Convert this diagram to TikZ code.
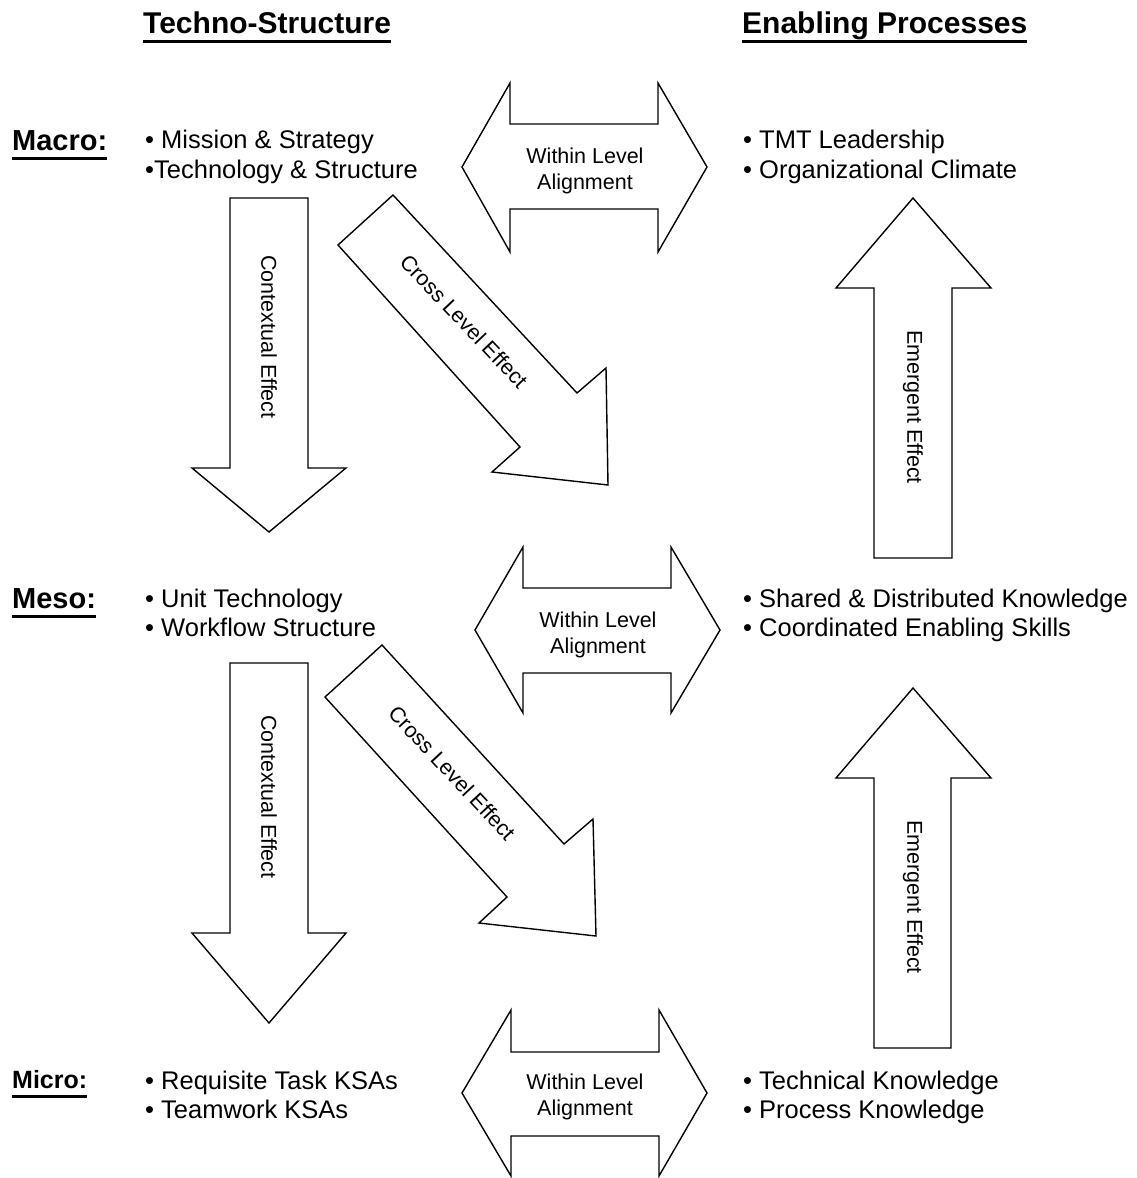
\documentclass[tikz,border=0pt]{standalone}
\usepackage{fontspec}
\setmainfont{Liberation Sans}
\usepackage{tikz}
\newcommand{\thickul}[1]{\setbox0=\hbox{#1}\rlap{\copy0}\rule[-9.5pt]{\wd0}{2.5pt}}
\tikzstyle{blockarrow} = [draw, fill=white, line width=1.4pt, line join=miter]
\tikzstyle{arrowtext} = [inner sep=0pt, align=center, font=\fontsize{21.5}{26}\selectfont]
\tikzstyle{itemline} = [inner sep=0pt, anchor=base west, font=\fontsize{25.5}{30}\selectfont]
\tikzstyle{heading} = [inner sep=0pt, anchor=base west, font=\fontsize{30}{36}\selectfont\bfseries]
\tikzstyle{levelname} = [inner sep=0pt, anchor=base west, font=\fontsize{29}{34}\selectfont\bfseries]

\begin{document}
\begin{tikzpicture}[x=1pt,y=-1pt]
    \path[fill=white] (0,0) rectangle (1136,1178);
    \useasboundingbox (0,0) rectangle (1136,1178);

    % column headings
    \node [heading] (techno) at (143,33) {\thickul{Techno-Structure}};
    \node [heading] (enabling) at (742,33) {\thickul{Enabling Processes}};

    \node [levelname] (macro) at (12,150) {\thickul{Macro:}};
    \node [levelname] (meso) at (12,608) {\thickul{Meso:}};
    \node [levelname, font=\fontsize{25}{30}\selectfont\bfseries] (micro) at (12,1088) {\thickul{Micro:}};

    \node [itemline] (mission) at (145,148) {• Mission \& Strategy};
    \node [itemline] (techstruct) at (145,178) {•Technology \& Structure};
    \node [itemline] (unittech) at (145,607) {• Unit Technology};
    \node [itemline] (workflow) at (145,636) {• Workflow Structure};
    \node [itemline] (taskksa) at (145,1089) {• Requisite Task KSAs};
    \node [itemline] (teamksa) at (145,1118) {• Teamwork KSAs};

    \node [itemline] (tmt) at (743,148) {• TMT Leadership};
    \node [itemline] (climate) at (743,178) {• Organizational Climate};
    \node [itemline] (shared) at (743,607) {• Shared \& Distributed Knowledge};
    \node [itemline] (skills) at (743,636) {• Coordinated Enabling Skills};
    \node [itemline] (technical) at (743,1089) {• Technical Knowledge};
    \node [itemline] (process) at (743,1118) {• Process Knowledge};

    % within level arrows
    \draw [blockarrow] (462,167) -- (510,83) -- (510,124) -- (658,124) -- (658,83) -- (707,167)
        -- (658,252) -- (658,209) -- (510,209) -- (510,252) -- cycle;
    \draw [blockarrow] (475,630) -- (523,547) -- (523,588) -- (671,588) -- (671,547) -- (720,630)
        -- (671,713) -- (671,673) -- (523,673) -- (523,713) -- cycle;
    \draw [blockarrow] (462,1093) -- (511,1010) -- (511,1052) -- (659,1052) -- (659,1010) -- (707,1093)
        -- (659,1176) -- (659,1136) -- (511,1136) -- (511,1176) -- cycle;
    \node [arrowtext] (within1) at (585,171) {Within Level\\Alignment};
    \node [arrowtext] (within2) at (598,635) {Within Level\\Alignment};
    \node [arrowtext] (within3) at (585,1097) {Within Level\\Alignment};

    % contextual arrows
    \draw [blockarrow] (230,198) -- (308,198) -- (308,468) -- (346,468) -- (269,532)
        -- (192,468) -- (230,468) -- cycle;
    \draw [blockarrow] (230,663) -- (308,663) -- (308,933) -- (346,933) -- (269,1023)
        -- (192,933) -- (230,933) -- cycle;
    \node [arrowtext, rotate=-90] (context1) at (269,337) {Contextual Effect};
    \node [arrowtext, rotate=-90] (context2) at (269,797) {Contextual Effect};

    % cross level arrows
    \draw [blockarrow] (393,195) -- (577,393) -- (606,368) -- (608,485) -- (492,472)
        -- (520,447) -- (338,245) -- cycle;
    \draw [blockarrow] (382,645) -- (564,844) -- (593,819) -- (596,936) -- (479,923)
        -- (507,897) -- (325,697) -- cycle;
    \node [arrowtext, rotate=-46.5] (cross1) at (464,321) {Cross Level Effect};
    \node [arrowtext, rotate=-47] (cross2) at (452,773) {Cross Level Effect};

    % emergent arrows
    \draw [blockarrow] (913,198) -- (991,288) -- (952,288) -- (952,558) -- (874,558)
        -- (874,288) -- (836,288) -- cycle;
    \draw [blockarrow] (913,688) -- (991,778) -- (951,778) -- (951,1048) -- (874,1048)
        -- (874,778) -- (836,778) -- cycle;
    \node [arrowtext, rotate=-90] (emerge1) at (913,407) {Emergent Effect};
    \node [arrowtext, rotate=-90] (emerge2) at (913,897) {Emergent Effect};
\end{tikzpicture}
\end{document}
